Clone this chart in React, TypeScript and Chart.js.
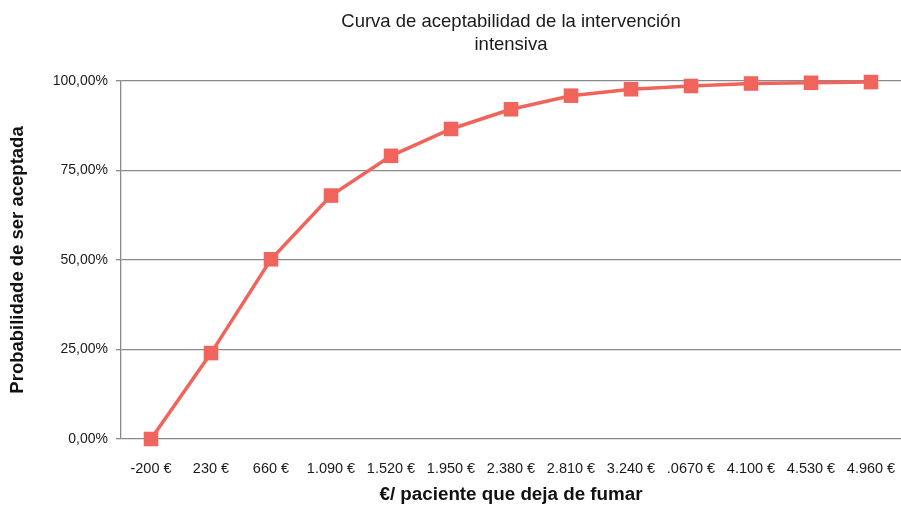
import React, { useEffect, useRef } from "react";
import { Chart, registerables } from "chart.js";

Chart.register(...registerables);

const TITLE_LINES = ["Curva de aceptabilidad de la intervención", "intensiva"];
const X_TITLE = "€/ paciente que deja de fumar";
const Y_TITLE = "Probabilidade de ser aceptada";

const categories = [
  "-200 €", "230 €", "660 €", "1.090 €", "1.520 €", "1.950 €", "2.380 €",
  "2.810 €", "3.240 €", ".0670 €", "4.100 €", "4.530 €", "4.960 €",
];

const probability = [0, 24.0, 50.2, 68.0, 79.1, 86.6, 92.1, 95.9, 97.7, 98.6, 99.3, 99.5, 99.7];

const yTicks = [0, 25, 50, 75, 100];

const FONT = "'Liberation Sans', Arial, Helvetica, sans-serif";

export default function App() {
  const ref = useRef<HTMLCanvasElement | null>(null);

  useEffect(() => {
    document.body.style.margin = "0";
    const canvas = ref.current;
    if (!canvas) return;
    const chart = new Chart(canvas, {
      type: "line",
      data: {
        labels: categories,
        datasets: [
          {
            data: probability,
            borderColor: "#F1645C",
            backgroundColor: "#F1645C",
            borderWidth: 3.5,
            pointStyle: "rect",
            pointRadius: 10.3,
            pointBorderWidth: 0,
            pointBackgroundColor: "#F1645C",
            tension: 0,
            clip: false,
          },
        ],
      },
      options: {
        animation: false,
        responsive: false,
        devicePixelRatio: 1,
        layout: { autoPadding: false, padding: { left: 0, right: 0, top: 0, bottom: 0 } },
        plugins: {
          legend: { display: false },
          tooltip: { enabled: false },
          title: {
            display: true,
            text: TITLE_LINES,
            fullSize: false,
            color: "#1a1a1a",
            font: { family: FONT, size: 18.5, weight: "normal", lineHeight: 1.243 },
            padding: { top: 10, bottom: 25 },
          },
        },
        scales: {
          x: {
            type: "category",
            offset: true,
            grid: {
              display: true,
              drawOnChartArea: false,
              drawTicks: true,
              tickLength: 18,
              color: "rgba(0,0,0,0)",
            },
            border: { display: false },
            ticks: {
              color: "#1a1a1a",
              font: { family: FONT, size: 14.5 },
              padding: 3,
              maxRotation: 0,
              autoSkip: false,
            },
            title: {
              display: true,
              text: X_TITLE,
              color: "#111",
              font: { family: FONT, size: 18.8, weight: "bold", lineHeight: 1.2 },
              padding: { top: 0, bottom: 0 },
            },
            afterFit: (s: any) => {
              s.height = 67;
              s.paddingLeft = 0;
              s.paddingRight = 0;
            },
          },
          y: {
            min: 0,
            max: 100,
            afterBuildTicks: (s: any) => {
              s.ticks = yTicks.map((v) => ({ value: v }));
            },
            grid: {
              color: "#8a8a8a",
              lineWidth: 1.3,
              drawTicks: true,
              tickLength: 5,
            },
            border: { display: true, color: "#8a8a8a", width: 1.3 },
            ticks: {
              color: "#1a1a1a",
              font: { family: FONT, size: 14 },
              padding: 8,
              callback: (v: any) => Number(v).toFixed(2).replace(".", ",") + "%",
            },
            title: {
              display: true,
              text: Y_TITLE,
              color: "#111",
              font: { family: FONT, size: 18.5, weight: "bold", lineHeight: 1.2 },
              padding: { top: 7, bottom: 0 },
            },
            afterFit: (s: any) => {
              s.width = 121;
            },
          },
        },
      },
    });
    return () => chart.destroy();
  }, []);

  return (
    <div style={{ width: 901, height: 506, overflow: "hidden" }}>
      <canvas ref={ref} width={901} height={506} style={{ display: "block", width: 901, height: 506 }} />
    </div>
  );
}
